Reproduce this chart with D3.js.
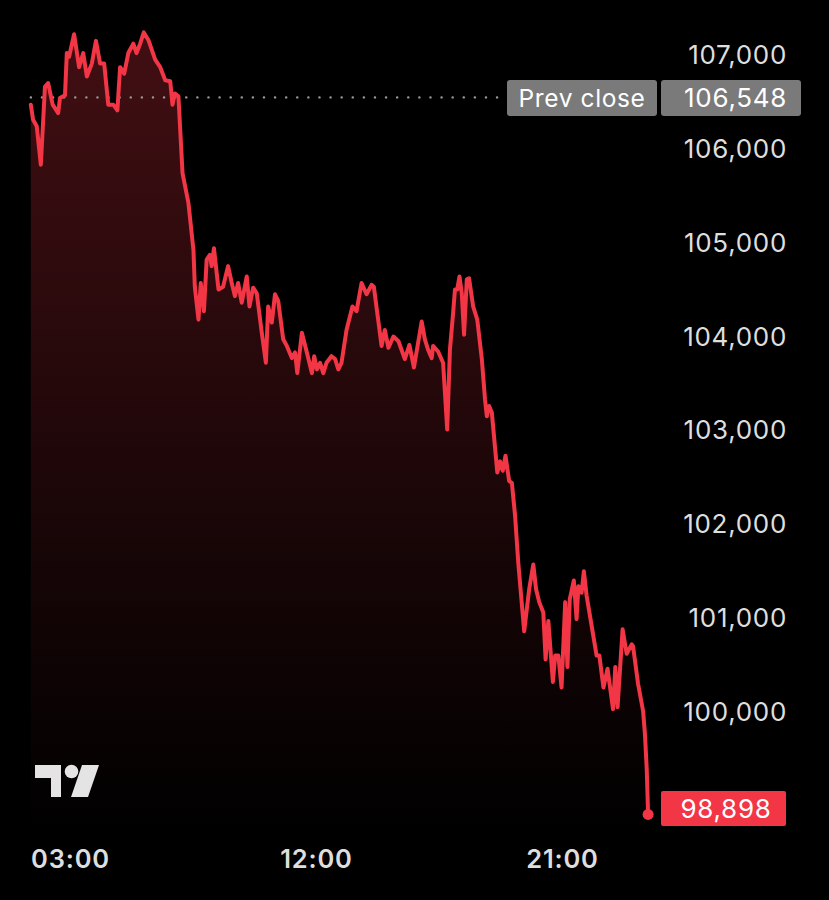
<!DOCTYPE html>
<html>
<head>
<meta charset="utf-8">
<script src="https://cdn.jsdelivr.net/npm/d3@7"></script>
<style>
  html, body { margin: 0; padding: 0; background: #000; }
  svg { display: block; }
</style>
</head>
<body>
<svg id="chart" width="829" height="900"></svg>
<script>
// ---- DATA (minutes since 00:00, prices in USD) ----
const minutes = [94,99,107,116,125,132,142,154,158,169,
173,178,189,200,209,217,228,237,246,255,
264,275,284,290,299,308,319,326,334,342,
352,367,378,389,400,405,410,418,427,440,
451,454,462,467,474,480,487,491,496,506,
516,527,535,542,549,557,568,574,582,590,
601,610,615,623,630,637,648,656,667,674,
679,689,700,711,716,722,729,736,743,754,
762,769,776,787,800,809,820,831,842,847,
864,871,879,890,901,915,925,935,952,959,
966,974,977,988,999,1008,1014,1021,1025,1030,
1035,1040,1045,1051,1056,1065,1074,1084,1091,1095,
1100,1106,1118,1124,1130,1136,1144,1150,1157,1164,
1177,1188,1197,1203,1210,1219,1224,1230,1240,1245,
1252,1259,1267,1272,1277,1286,1292,1296,1303,1308,
1314,1325,1336,1342,1351,1360,1372,1377,1382,1393,
1402,1413,1416,1427,1438,1442,1446,1449];
const prices = [106460,106300,106230,105820,106650,106690,106460,106370,106530,106560,
107010,106970,107210,106860,107010,106760,106900,107140,106900,106900,
106460,106460,106400,106860,106790,107010,107110,107010,107110,107230,
107150,106940,106860,106720,106710,106460,106580,106550,105730,105410,
104910,104520,104170,104560,104260,104810,104860,104740,104930,104490,
104520,104740,104560,104420,104560,104350,104630,104310,104510,104450,
104030,103710,104310,104140,104440,104370,103960,103890,103760,103820,
103600,104030,103820,103600,103780,103640,103710,103600,103710,103780,
103750,103640,103710,104060,104310,104260,104560,104440,104540,104520,
103890,104060,103870,103990,103940,103750,103900,103660,104150,103960,
103850,103760,103890,103830,103710,103000,103850,104240,104490,104490,
104630,104450,104010,104600,104610,104310,104170,103750,103320,103140,
103250,103180,102540,102660,102560,102720,102450,102430,102080,101580,
100850,101300,101560,101300,101160,101050,100550,100960,100310,100590,
100590,100250,101160,100470,101190,101390,100980,101330,101260,101490,
101230,100910,100590,100590,100250,100450,100020,100470,100040,100870,
100610,100710,100690,100290,100000,99760,99380,98898];
const prevClose = 106548;
const lastPrice = 98898;
const yTicks = [100000,101000,102000,103000,104000,105000,106000,107000];
const xTicks = [180, 720, 1260];           // 03:00, 12:00, 21:00
const prevCloseLabel = "Prev close";

// ---- STYLE ----
const RED = "#f23645";
const TEXT = "#dedede";
const FONT = "Inter, 'Noto Sans', 'DejaVu Sans', sans-serif";

const svg = d3.select("#chart");
svg.append("rect").attr("width", 829).attr("height", 900).attr("fill", "#000");

const x = d3.scaleLinear().domain([180, 1260]).range([70, 562]);
const y = d3.scaleLinear().domain([100000, 107000]).range([711, 54]);
const plotBottom = 836;

const data = minutes.map((m, i) => ({ m, p: prices[i] }));

// gradient
const defs = svg.append("defs");
const grad = defs.append("linearGradient")
  .attr("id", "fillGrad").attr("gradientUnits", "userSpaceOnUse")
  .attr("x1", 0).attr("x2", 0).attr("y1", y(107230)).attr("y2", plotBottom);
grad.append("stop").attr("offset", "0%").attr("stop-color", RED).attr("stop-opacity", 0.27);
grad.append("stop").attr("offset", "100%").attr("stop-color", RED).attr("stop-opacity", 0.0);

const area = d3.area().x(d => x(d.m)).y0(plotBottom).y1(d => y(d.p));
svg.append("path").datum(data).attr("d", area).attr("fill", "url(#fillGrad)");

// prev close dotted line
svg.append("line")
  .attr("x1", x(minutes[0])).attr("x2", 505)
  .attr("y1", y(prevClose) + 1).attr("y2", y(prevClose) + 1)
  .attr("stroke", "#9a9a9a").attr("stroke-width", 2.4)
  .attr("stroke-dasharray", "0.1 11").attr("stroke-linecap", "round");

// line
const line = d3.line().x(d => x(d.m)).y(d => y(d.p));
svg.append("path").datum(data).attr("d", line)
  .attr("fill", "none").attr("stroke", RED).attr("stroke-width", 4)
  .attr("stroke-linejoin", "round").attr("stroke-linecap", "round");

// last point dot
const last = data[data.length - 1];
svg.append("circle").attr("cx", x(last.m)).attr("cy", y(last.p)).attr("r", 5.5).attr("fill", RED);

// Y axis
const yAxis = d3.axisRight(y).tickValues(yTicks).tickSize(0).tickPadding(0)
  .tickFormat(d3.format(","));
const gy = svg.append("g").attr("transform", "translate(787,0)").call(yAxis);
gy.select(".domain").remove();
gy.selectAll("text")
  .attr("x", 0).attr("dy", null)
  .attr("text-anchor", "end").attr("dominant-baseline", "central")
  .attr("fill", TEXT).style("font-family", FONT).style("font-size", "26px")
  .style("letter-spacing", "0.7px").style("font-weight", 400);

// Prev close labels
const pcY = y(prevClose) + 1.5;
const pc = svg.append("g");
pc.append("rect").attr("x", 507).attr("y", pcY - 18).attr("width", 150).attr("height", 36)
  .attr("rx", 3).attr("fill", "#7a7a7a");
pc.append("rect").attr("x", 661).attr("y", pcY - 18).attr("width", 140).attr("height", 36)
  .attr("rx", 3).attr("fill", "#7a7a7a");
pc.append("text").attr("x", 582).attr("y", pcY).attr("text-anchor", "middle")
  .attr("dominant-baseline", "central").attr("fill", "#fff")
  .style("font-family", FONT).style("font-size", "24.5px").style("letter-spacing", "0.6px").text(prevCloseLabel);
pc.append("text").attr("x", 787).attr("y", pcY).attr("text-anchor", "end")
  .attr("dominant-baseline", "central").attr("fill", "#fff")
  .style("font-family", FONT).style("font-size", "26px").style("letter-spacing", "0.7px")
  .text(d3.format(",")(prevClose));

// Last price label
const lpY = y(lastPrice) - 6;
svg.append("rect").attr("x", 661).attr("y", lpY - 17.5).attr("width", 125).attr("height", 35)
  .attr("rx", 2).attr("fill", RED);
svg.append("text").attr("x", 726).attr("y", lpY).attr("text-anchor", "middle")
  .attr("dominant-baseline", "central").attr("fill", "#fff")
  .style("font-family", FONT).style("font-size", "26px").style("letter-spacing", "0.7px")
  .text(d3.format(",")(lastPrice));

// X axis
const fmtTime = m => String(Math.floor(m / 60) % 24).padStart(2, "0") + ":" + String(m % 60).padStart(2, "0");
const xAxis = d3.axisBottom(x).tickValues(xTicks).tickSize(0).tickPadding(0).tickFormat(fmtTime);
const gx = svg.append("g").attr("transform", "translate(0,858)").call(xAxis);
gx.select(".domain").remove();
gx.selectAll("text")
  .attr("y", 0).attr("dy", null).attr("dominant-baseline", "central")
  .attr("fill", TEXT).style("font-family", FONT).style("font-size", "25.5px")
  .style("letter-spacing", "0.8px").style("font-weight", 600);

// TradingView logo
const logo = svg.append("g").attr("fill", "#e4e4e4");
logo.append("path").attr("d", "M35,765 H61 V797 H51 V778 H35 Z");
logo.append("circle").attr("cx", 71.5).attr("cy", 771.5).attr("r", 6.8);
logo.append("path").attr("d", "M82,765 H99 L88,797 H71 Z");
</script>
</body>
</html>
